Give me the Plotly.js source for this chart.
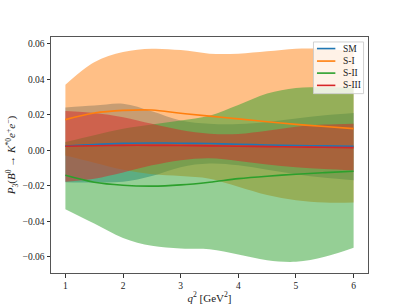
<!DOCTYPE html>
<html>
<head>
<meta charset="utf-8">
<script src="https://cdn.plot.ly/plotly-3.0.1.min.js"></script>
<style>
html,body{margin:0;padding:0;background:#fff;}
#chart{width:409px;height:307px;}
</style>
</head>
<body>
<div id="chart"></div>
<script>
// q^2 grid (GeV^2)
const q2 = [1, 1.5, 2, 2.5, 3, 3.5, 4, 4.5, 5, 5.5, 6];

const seriesNames = ['SM', 'S-I', 'S-II', 'S-III'];
const lineColors = ['#1f77b4', '#ff7f0e', '#2ca02c', '#d62728'];
const fillColors = ['rgba(31,119,180,0.5)', 'rgba(255,127,14,0.5)', 'rgba(44,160,44,0.5)', 'rgba(214,39,40,0.5)'];

// SM
const smCentral = [0.0024, 0.0033, 0.0039, 0.0041, 0.0040, 0.0038, 0.0034, 0.0030, 0.0027, 0.0025, 0.0023];
const smUpper   = [0.0242, 0.0252, 0.0263, 0.0220, 0.0168, 0.0150, 0.0148, 0.0160, 0.0180, 0.0197, 0.0210];
const smLower   = [-0.0180, -0.0182, -0.0178, -0.0145, -0.0095, -0.0075, -0.0085, -0.0110, -0.0135, -0.0155, -0.0169];

// S-I
const s1Central = [0.0173, 0.0210, 0.0225, 0.0227, 0.0209, 0.0193, 0.0177, 0.0161, 0.0146, 0.0134, 0.0122];
const s1Upper   = [0.0370, 0.0497, 0.0554, 0.0573, 0.0565, 0.0545, 0.0545, 0.0558, 0.0573, 0.0572, 0.0558];
const s1Lower   = [-0.0030, -0.0070, -0.0110, -0.0135, -0.0145, -0.0160, -0.0205, -0.0252, -0.0282, -0.0295, -0.0295];

// S-II
const s2Central = [-0.0141, -0.0180, -0.0197, -0.0202, -0.0195, -0.0180, -0.0160, -0.0146, -0.0135, -0.0126, -0.0118];
const s2Upper   = [0.0047, 0.0085, 0.0122, 0.0145, 0.0168, 0.0195, 0.0255, 0.0320, 0.0352, 0.0355, 0.0353];
const s2Lower   = [-0.0332, -0.0413, -0.0494, -0.0539, -0.0554, -0.0558, -0.0588, -0.0620, -0.0629, -0.0601, -0.0550];

// S-III
const s3Central = [0.0023, 0.0026, 0.0028, 0.0028, 0.0027, 0.0025, 0.0023, 0.0021, 0.0019, 0.0017, 0.0015];
const s3Upper   = [0.0222, 0.0210, 0.0187, 0.0150, 0.0115, 0.0094, 0.0092, 0.0110, 0.0133, 0.0145, 0.0150];
const s3Lower   = [-0.0177, -0.0160, -0.0125, -0.0085, -0.0056, -0.0045, -0.0060, -0.0080, -0.0095, -0.0105, -0.0113];

const yTicks = [-0.06, -0.04, -0.02, 0.00, 0.02, 0.04, 0.06];
const xTicks = [1, 2, 3, 4, 5, 6];

const centrals = [smCentral, s1Central, s2Central, s3Central];
const uppers = [smUpper, s1Upper, s2Upper, s3Upper];
const lowers = [smLower, s1Lower, s2Lower, s3Lower];

const FONT = 'Liberation Serif, DejaVu Serif, serif';
const traces = [];
for (let i = 0; i < 4; i++) {
  traces.push({
    x: q2, y: lowers[i], type: 'scatter', mode: 'lines',
    line: {width: 0, shape: 'spline', color: fillColors[i]},
    showlegend: false, hoverinfo: 'skip'
  });
  traces.push({
    x: q2, y: uppers[i], type: 'scatter', mode: 'lines',
    line: {width: 0, shape: 'spline', color: fillColors[i]},
    fill: 'tonexty', fillcolor: fillColors[i],
    showlegend: false, hoverinfo: 'skip'
  });
}
for (let i = 0; i < 4; i++) {
  traces.push({
    x: q2, y: centrals[i], type: 'scatter', mode: 'lines', name: seriesNames[i],
    line: {width: 1.6, shape: 'spline', color: lineColors[i]},
    showlegend: false
  });
}

// compact matplotlib-style legend box
const legX0 = 0.828, legX1 = 0.986, legYTop = 0.979, legYBot = 0.760;
const legRowY = [0.951, 0.898, 0.847, 0.795];
const shapes = [{
  type: 'rect', xref: 'paper', yref: 'paper', x0: legX0, x1: legX1, y0: legYBot, y1: legYTop,
  fillcolor: 'rgba(255,255,255,0.8)', line: {color: 'rgba(204,204,204,0.9)', width: 1}, layer: 'above'
}];
const annotations = [];
for (let i = 0; i < 4; i++) {
  shapes.push({
    type: 'line', xref: 'paper', yref: 'paper', x0: 0.839, x1: 0.897, y0: legRowY[i], y1: legRowY[i],
    line: {color: lineColors[i], width: 1.6}, layer: 'above'
  });
  annotations.push({
    xref: 'paper', yref: 'paper', x: 0.916, y: legRowY[i], xanchor: 'left', yanchor: 'middle',
    text: seriesNames[i], showarrow: false, font: {family: FONT, size: 9.5, color: '#222'}
  });
}

const layout = {
  width: 409, height: 307,
  margin: {l: 51, r: 41, t: 37, b: 34, pad: 0},
  paper_bgcolor: '#fff', plot_bgcolor: '#fff',
  showlegend: false,
  font: {family: FONT, size: 9.5, color: '#222'},
  xaxis: {
    range: [0.75, 6.25], tickvals: xTicks, ticktext: xTicks.map(String),
    ticks: 'outside', ticklen: 3.5, tickwidth: 0.8, tickcolor: '#333',
    showline: true, linecolor: '#555', linewidth: 1, mirror: true,
    showgrid: false, zeroline: false, automargin: false,
    tickfont: {family: FONT, size: 9.5, color: '#222'},
    title: {text: '<i>q</i><sup>2</sup> [GeV<sup>2</sup>]', font: {family: FONT, size: 11, color: '#222'}, standoff: 4}
  },
  yaxis: {
    range: [-0.0692, 0.0639], tickvals: yTicks, tickformat: '.2f',
    ticks: 'outside', ticklen: 3.5, tickwidth: 0.8, tickcolor: '#333',
    showline: true, linecolor: '#555', linewidth: 1, mirror: true,
    showgrid: false, zeroline: false, automargin: false,
    tickfont: {family: FONT, size: 9.5, color: '#222'},
    title: {text: '<i>P</i><sub>3</sub>(<i>B</i><sup>0</sup> → <i>K</i><sup>*0</sup><i>e</i><sup>+</sup><i>e</i><sup>−</sup>)', font: {family: FONT, size: 11, color: '#222'}, standoff: 4}
  },
  shapes: shapes,
  annotations: annotations
};

Plotly.newPlot('chart', traces, layout, {displayModeBar: false, responsive: false});
</script>
</body>
</html>
